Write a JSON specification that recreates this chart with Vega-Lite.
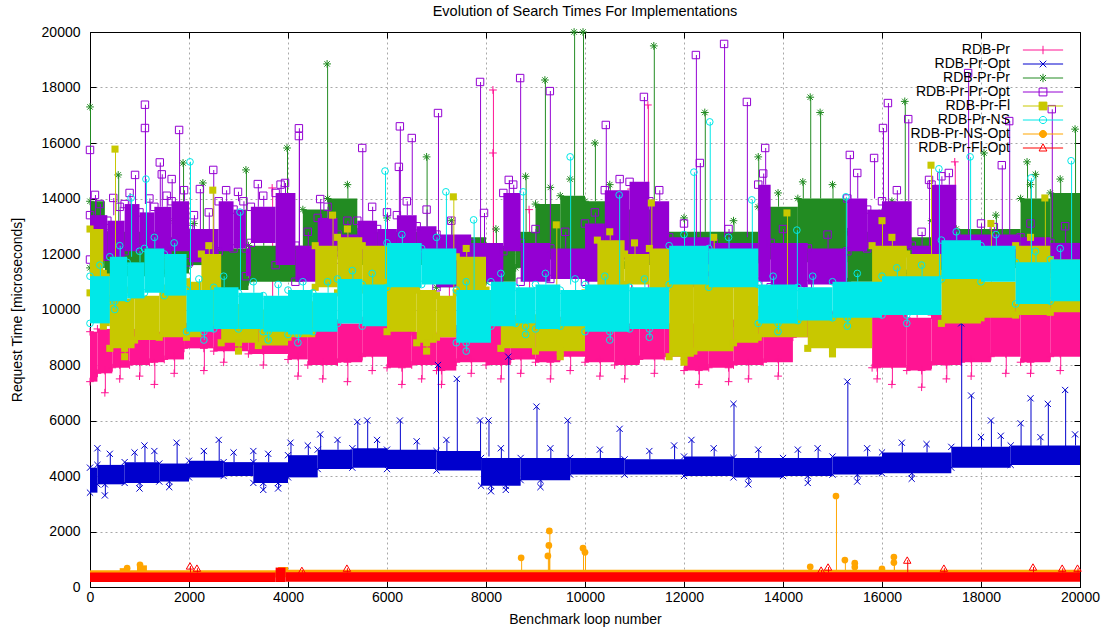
{
"$schema": "https://vega.github.io/schema/vega-lite/v6.json",
"width": 990, "height": 555,
"autosize": {"type": "none"},
"padding": {"left": 90, "top": 32, "right": 28, "bottom": 43},
"background": "white",
"title": {"text": "Evolution of Search Times For Implementations", "fontSize": 14.5, "fontWeight": "normal", "font": "Liberation Sans", "color": "black", "offset": 6, "anchor": "middle"},
"config": {
  "font": "Liberation Sans",
  "view": {"stroke": "black", "strokeWidth": 1},
  "axis": {"labelFont": "Liberation Sans", "labelFontSize": 14, "labelColor": "black", "titleFont": "Liberation Sans", "titleFontSize": 14, "titleFontWeight": "normal", "titleColor": "black", "domainColor": "black", "tickColor": "black", "gridColor": "#a8a8a8", "gridDash": [2, 3], "gridWidth": 1, "gridOpacity": 1}
},
"datasets": {"d": [
{"s":"RDB-Pr","k":"b","x":0,"x2":150,"l":7400,"h":9200},
{"s":"RDB-Pr","k":"b","x":150,"x2":450,"l":7700,"h":9300},
{"s":"RDB-Pr","k":"b","x":450,"x2":800,"l":7900,"h":9100},
{"s":"RDB-Pr","k":"b","x":800,"x2":1200,"l":8000,"h":9300},
{"s":"RDB-Pr","k":"b","x":1200,"x2":1500,"l":8100,"h":9200},
{"s":"RDB-Pr","k":"b","x":1500,"x2":1900,"l":8200,"h":9400},
{"s":"RDB-Pr","k":"b","x":1900,"x2":2500,"l":8600,"h":9500},
{"s":"RDB-Pr","k":"b","x":2500,"x2":3200,"l":8500,"h":9400},
{"s":"RDB-Pr","k":"b","x":3200,"x2":4000,"l":8400,"h":9500},
{"s":"RDB-Pr","k":"b","x":4000,"x2":4400,"l":8200,"h":9700},
{"s":"RDB-Pr","k":"b","x":4400,"x2":5000,"l":8000,"h":9400},
{"s":"RDB-Pr","k":"b","x":5000,"x2":5500,"l":8100,"h":9500},
{"s":"RDB-Pr","k":"b","x":5500,"x2":6000,"l":8300,"h":9600},
{"s":"RDB-Pr","k":"b","x":6000,"x2":6500,"l":7900,"h":9300},
{"s":"RDB-Pr","k":"b","x":6500,"x2":7000,"l":8000,"h":9200},
{"s":"RDB-Pr","k":"b","x":7000,"x2":7400,"l":7800,"h":9000},
{"s":"RDB-Pr","k":"b","x":7400,"x2":8000,"l":8100,"h":9300},
{"s":"RDB-Pr","k":"b","x":8000,"x2":8500,"l":8000,"h":9500},
{"s":"RDB-Pr","k":"b","x":8500,"x2":9000,"l":8200,"h":9600},
{"s":"RDB-Pr","k":"b","x":9000,"x2":9500,"l":8100,"h":9400},
{"s":"RDB-Pr","k":"b","x":9500,"x2":10000,"l":8300,"h":9600},
{"s":"RDB-Pr","k":"b","x":10000,"x2":10600,"l":8100,"h":9700},
{"s":"RDB-Pr","k":"b","x":10600,"x2":11100,"l":8000,"h":9500},
{"s":"RDB-Pr","k":"b","x":11100,"x2":11600,"l":8200,"h":9600},
{"s":"RDB-Pr","k":"b","x":11600,"x2":12000,"l":8300,"h":9500},
{"s":"RDB-Pr","k":"b","x":12000,"x2":12500,"l":7800,"h":9500},
{"s":"RDB-Pr","k":"b","x":12500,"x2":13000,"l":7900,"h":9600},
{"s":"RDB-Pr","k":"b","x":13000,"x2":13600,"l":8000,"h":9500},
{"s":"RDB-Pr","k":"b","x":13600,"x2":14200,"l":8100,"h":9400},
{"s":"RDB-Pr","k":"b","x":14200,"x2":15000,"l":9000,"h":9900},
{"s":"RDB-Pr","k":"b","x":15000,"x2":15800,"l":9100,"h":9800},
{"s":"RDB-Pr","k":"b","x":15800,"x2":16500,"l":7900,"h":9900},
{"s":"RDB-Pr","k":"b","x":16500,"x2":17000,"l":7800,"h":9700},
{"s":"RDB-Pr","k":"b","x":17000,"x2":17600,"l":8000,"h":9800},
{"s":"RDB-Pr","k":"b","x":17600,"x2":18200,"l":8100,"h":10300},
{"s":"RDB-Pr","k":"b","x":18200,"x2":18800,"l":8300,"h":10200},
{"s":"RDB-Pr","k":"b","x":18800,"x2":19400,"l":8100,"h":10000},
{"s":"RDB-Pr","k":"b","x":19400,"x2":20000,"l":8300,"h":10200},
{"s":"RDB-Pr","k":"p","x":3680,"x2":3700,"l":9400,"h":14380},
{"s":"RDB-Pr","k":"p","x":7250,"x2":7270,"l":9200,"h":12100},
{"s":"RDB-Pr","k":"p","x":8140,"x2":8160,"l":9500,"h":15640},
{"s":"RDB-Pr","k":"p","x":8140,"x2":8160,"l":9500,"h":17910},
{"s":"RDB-Pr","k":"p","x":8870,"x2":8890,"l":9600,"h":13600},
{"s":"RDB-Pr","k":"p","x":10930,"x2":10950,"l":9700,"h":14340},
{"s":"RDB-Pr","k":"p","x":11270,"x2":11290,"l":9600,"h":17370},
{"s":"RDB-Pr","k":"p","x":16700,"x2":16720,"l":9700,"h":11500},
{"s":"RDB-Pr","k":"p","x":17470,"x2":17490,"l":9800,"h":15320},
{"s":"RDB-Pr","k":"p","x":19800,"x2":19820,"l":10200,"h":12500},
{"s":"RDB-Pr","k":"q","x":300,"x2":320,"l":7000,"h":7800},
{"s":"RDB-Pr","k":"q","x":600,"x2":620,"l":7500,"h":8000},
{"s":"RDB-Pr","k":"q","x":1000,"x2":1020,"l":7600,"h":8100},
{"s":"RDB-Pr","k":"q","x":1300,"x2":1320,"l":7300,"h":8100},
{"s":"RDB-Pr","k":"q","x":1700,"x2":1720,"l":7700,"h":8300},
{"s":"RDB-Pr","k":"q","x":2300,"x2":2320,"l":7800,"h":8600},
{"s":"RDB-Pr","k":"q","x":2700,"x2":2720,"l":8100,"h":8600},
{"s":"RDB-Pr","k":"q","x":3500,"x2":3520,"l":8000,"h":8500},
{"s":"RDB-Pr","k":"q","x":4200,"x2":4220,"l":7600,"h":8300},
{"s":"RDB-Pr","k":"q","x":4700,"x2":4720,"l":7500,"h":8100},
{"s":"RDB-Pr","k":"q","x":5200,"x2":5220,"l":7400,"h":8100},
{"s":"RDB-Pr","k":"q","x":5700,"x2":5720,"l":7800,"h":8400},
{"s":"RDB-Pr","k":"q","x":6300,"x2":6320,"l":7300,"h":7900},
{"s":"RDB-Pr","k":"q","x":6700,"x2":6720,"l":7500,"h":8100},
{"s":"RDB-Pr","k":"q","x":7100,"x2":7120,"l":7300,"h":7800},
{"s":"RDB-Pr","k":"q","x":7700,"x2":7720,"l":7700,"h":8200},
{"s":"RDB-Pr","k":"q","x":8300,"x2":8320,"l":7500,"h":8100},
{"s":"RDB-Pr","k":"q","x":8700,"x2":8720,"l":7700,"h":8300},
{"s":"RDB-Pr","k":"q","x":9300,"x2":9320,"l":7500,"h":8100},
{"s":"RDB-Pr","k":"q","x":9700,"x2":9720,"l":7800,"h":8400},
{"s":"RDB-Pr","k":"q","x":10300,"x2":10320,"l":7600,"h":8200},
{"s":"RDB-Pr","k":"q","x":10800,"x2":10820,"l":7500,"h":8100},
{"s":"RDB-Pr","k":"q","x":11400,"x2":11420,"l":7700,"h":8300},
{"s":"RDB-Pr","k":"q","x":12300,"x2":12320,"l":7300,"h":7800},
{"s":"RDB-Pr","k":"q","x":12900,"x2":12920,"l":7400,"h":7900},
{"s":"RDB-Pr","k":"q","x":13300,"x2":13320,"l":7500,"h":8100},
{"s":"RDB-Pr","k":"q","x":13900,"x2":13920,"l":7600,"h":8200},
{"s":"RDB-Pr","k":"q","x":15900,"x2":15920,"l":7500,"h":7900},
{"s":"RDB-Pr","k":"q","x":16200,"x2":16220,"l":7300,"h":8000},
{"s":"RDB-Pr","k":"q","x":16800,"x2":16820,"l":7200,"h":7800},
{"s":"RDB-Pr","k":"q","x":17300,"x2":17320,"l":7500,"h":8000},
{"s":"RDB-Pr","k":"q","x":17800,"x2":17820,"l":7600,"h":8200},
{"s":"RDB-Pr","k":"q","x":18500,"x2":18520,"l":7700,"h":8400},
{"s":"RDB-Pr","k":"q","x":19000,"x2":19020,"l":7700,"h":8100},
{"s":"RDB-Pr","k":"q","x":19600,"x2":19620,"l":7800,"h":8400},
{"s":"RDB-Pr-Opt","k":"b","x":0,"x2":150,"l":3400,"h":4300},
{"s":"RDB-Pr-Opt","k":"b","x":150,"x2":700,"l":3700,"h":4400},
{"s":"RDB-Pr-Opt","k":"b","x":700,"x2":1400,"l":3750,"h":4500},
{"s":"RDB-Pr-Opt","k":"b","x":1400,"x2":2000,"l":3800,"h":4450},
{"s":"RDB-Pr-Opt","k":"b","x":2000,"x2":2700,"l":3950,"h":4550},
{"s":"RDB-Pr-Opt","k":"b","x":2700,"x2":3300,"l":4000,"h":4500},
{"s":"RDB-Pr-Opt","k":"b","x":3300,"x2":4000,"l":3750,"h":4500},
{"s":"RDB-Pr-Opt","k":"b","x":4000,"x2":4600,"l":3950,"h":4750},
{"s":"RDB-Pr-Opt","k":"b","x":4600,"x2":5300,"l":4250,"h":4950},
{"s":"RDB-Pr-Opt","k":"b","x":5300,"x2":6000,"l":4300,"h":5000},
{"s":"RDB-Pr-Opt","k":"b","x":6000,"x2":7000,"l":4250,"h":4950},
{"s":"RDB-Pr-Opt","k":"b","x":7000,"x2":7900,"l":4200,"h":4900},
{"s":"RDB-Pr-Opt","k":"b","x":7900,"x2":8700,"l":3650,"h":4650},
{"s":"RDB-Pr-Opt","k":"b","x":8700,"x2":9700,"l":3850,"h":4650},
{"s":"RDB-Pr-Opt","k":"b","x":9700,"x2":10800,"l":4050,"h":4650},
{"s":"RDB-Pr-Opt","k":"b","x":10800,"x2":12000,"l":4050,"h":4600},
{"s":"RDB-Pr-Opt","k":"b","x":12000,"x2":13000,"l":4000,"h":4700},
{"s":"RDB-Pr-Opt","k":"b","x":13000,"x2":14000,"l":3950,"h":4650},
{"s":"RDB-Pr-Opt","k":"b","x":14000,"x2":15000,"l":4000,"h":4650},
{"s":"RDB-Pr-Opt","k":"b","x":15000,"x2":16000,"l":4050,"h":4700},
{"s":"RDB-Pr-Opt","k":"b","x":16000,"x2":17400,"l":4100,"h":4850},
{"s":"RDB-Pr-Opt","k":"b","x":17400,"x2":18600,"l":4300,"h":5050},
{"s":"RDB-Pr-Opt","k":"b","x":18600,"x2":20000,"l":4400,"h":5100},
{"s":"RDB-Pr-Opt","k":"p","x":150,"x2":170,"l":4300,"h":5000},
{"s":"RDB-Pr-Opt","k":"p","x":400,"x2":420,"l":4400,"h":4800},
{"s":"RDB-Pr-Opt","k":"p","x":900,"x2":920,"l":4500,"h":4850},
{"s":"RDB-Pr-Opt","k":"p","x":1100,"x2":1120,"l":4400,"h":5100},
{"s":"RDB-Pr-Opt","k":"p","x":1300,"x2":1320,"l":4500,"h":4900},
{"s":"RDB-Pr-Opt","k":"p","x":1750,"x2":1770,"l":4400,"h":5200},
{"s":"RDB-Pr-Opt","k":"p","x":2300,"x2":2320,"l":4550,"h":4900},
{"s":"RDB-Pr-Opt","k":"p","x":2600,"x2":2620,"l":4500,"h":5300},
{"s":"RDB-Pr-Opt","k":"p","x":2900,"x2":2920,"l":4500,"h":4850},
{"s":"RDB-Pr-Opt","k":"p","x":3300,"x2":3320,"l":4400,"h":4900},
{"s":"RDB-Pr-Opt","k":"p","x":3600,"x2":3620,"l":4500,"h":4800},
{"s":"RDB-Pr-Opt","k":"p","x":4050,"x2":4070,"l":4700,"h":5200},
{"s":"RDB-Pr-Opt","k":"p","x":4400,"x2":4420,"l":4750,"h":5100},
{"s":"RDB-Pr-Opt","k":"p","x":4650,"x2":4670,"l":4900,"h":5500},
{"s":"RDB-Pr-Opt","k":"p","x":5000,"x2":5020,"l":4950,"h":5300},
{"s":"RDB-Pr-Opt","k":"p","x":5400,"x2":5420,"l":4900,"h":5950},
{"s":"RDB-Pr-Opt","k":"p","x":5600,"x2":5620,"l":4900,"h":6000},
{"s":"RDB-Pr-Opt","k":"p","x":5800,"x2":5820,"l":5000,"h":5300},
{"s":"RDB-Pr-Opt","k":"p","x":6260,"x2":6280,"l":4900,"h":6000},
{"s":"RDB-Pr-Opt","k":"p","x":6600,"x2":6620,"l":4950,"h":5250},
{"s":"RDB-Pr-Opt","k":"p","x":7030,"x2":7050,"l":4900,"h":8000},
{"s":"RDB-Pr-Opt","k":"p","x":7200,"x2":7220,"l":4900,"h":5300},
{"s":"RDB-Pr-Opt","k":"p","x":7410,"x2":7430,"l":4900,"h":7500},
{"s":"RDB-Pr-Opt","k":"p","x":7880,"x2":7900,"l":4800,"h":6000},
{"s":"RDB-Pr-Opt","k":"p","x":8050,"x2":8070,"l":4700,"h":6000},
{"s":"RDB-Pr-Opt","k":"p","x":8300,"x2":8320,"l":4650,"h":5000},
{"s":"RDB-Pr-Opt","k":"p","x":8450,"x2":8470,"l":4600,"h":8300},
{"s":"RDB-Pr-Opt","k":"p","x":9020,"x2":9040,"l":4600,"h":6500},
{"s":"RDB-Pr-Opt","k":"p","x":9300,"x2":9320,"l":4650,"h":5000},
{"s":"RDB-Pr-Opt","k":"p","x":9650,"x2":9670,"l":4600,"h":6000},
{"s":"RDB-Pr-Opt","k":"p","x":10300,"x2":10320,"l":4650,"h":4950},
{"s":"RDB-Pr-Opt","k":"p","x":10700,"x2":10720,"l":4600,"h":5700},
{"s":"RDB-Pr-Opt","k":"p","x":11300,"x2":11320,"l":4600,"h":4900},
{"s":"RDB-Pr-Opt","k":"p","x":11800,"x2":11820,"l":4600,"h":5100},
{"s":"RDB-Pr-Opt","k":"p","x":12150,"x2":12170,"l":4600,"h":5300},
{"s":"RDB-Pr-Opt","k":"p","x":12600,"x2":12620,"l":4700,"h":5000},
{"s":"RDB-Pr-Opt","k":"p","x":13000,"x2":13020,"l":4650,"h":6600},
{"s":"RDB-Pr-Opt","k":"p","x":13500,"x2":13520,"l":4650,"h":4950},
{"s":"RDB-Pr-Opt","k":"p","x":14300,"x2":14320,"l":4650,"h":4950},
{"s":"RDB-Pr-Opt","k":"p","x":14700,"x2":14720,"l":4650,"h":5000},
{"s":"RDB-Pr-Opt","k":"p","x":15300,"x2":15320,"l":4700,"h":7400},
{"s":"RDB-Pr-Opt","k":"p","x":15700,"x2":15720,"l":4700,"h":5000},
{"s":"RDB-Pr-Opt","k":"p","x":16400,"x2":16420,"l":4850,"h":5200},
{"s":"RDB-Pr-Opt","k":"p","x":16900,"x2":16920,"l":4850,"h":5150},
{"s":"RDB-Pr-Opt","k":"p","x":17600,"x2":17620,"l":4800,"h":9500},
{"s":"RDB-Pr-Opt","k":"p","x":17800,"x2":17820,"l":4900,"h":6900},
{"s":"RDB-Pr-Opt","k":"p","x":18000,"x2":18020,"l":5050,"h":5400},
{"s":"RDB-Pr-Opt","k":"p","x":18200,"x2":18220,"l":5000,"h":6000},
{"s":"RDB-Pr-Opt","k":"p","x":18400,"x2":18420,"l":5050,"h":5450},
{"s":"RDB-Pr-Opt","k":"p","x":18800,"x2":18820,"l":5000,"h":5900},
{"s":"RDB-Pr-Opt","k":"p","x":19000,"x2":19020,"l":5000,"h":6800},
{"s":"RDB-Pr-Opt","k":"p","x":19200,"x2":19220,"l":5100,"h":5400},
{"s":"RDB-Pr-Opt","k":"p","x":19350,"x2":19370,"l":5000,"h":6600},
{"s":"RDB-Pr-Opt","k":"p","x":19700,"x2":19720,"l":5000,"h":7100},
{"s":"RDB-Pr-Opt","k":"p","x":19900,"x2":19920,"l":5100,"h":5500},
{"s":"RDB-Pr-Opt","k":"q","x":300,"x2":320,"l":3300,"h":3700},
{"s":"RDB-Pr-Opt","k":"q","x":1000,"x2":1020,"l":3550,"h":3750},
{"s":"RDB-Pr-Opt","k":"q","x":1600,"x2":1620,"l":3600,"h":3800},
{"s":"RDB-Pr-Opt","k":"q","x":3500,"x2":3520,"l":3500,"h":3750},
{"s":"RDB-Pr-Opt","k":"q","x":3800,"x2":3820,"l":3550,"h":3750},
{"s":"RDB-Pr-Opt","k":"q","x":8100,"x2":8120,"l":3450,"h":3650},
{"s":"RDB-Pr-Opt","k":"q","x":8400,"x2":8420,"l":3500,"h":3650},
{"s":"RDB-Pr-Opt","k":"q","x":9100,"x2":9120,"l":3600,"h":3850},
{"s":"RDB-Pr-Opt","k":"q","x":13300,"x2":13320,"l":3700,"h":3950},
{"s":"RDB-Pr-Opt","k":"q","x":14500,"x2":14520,"l":3750,"h":4000},
{"s":"RDB-Pr-Opt","k":"q","x":15500,"x2":15520,"l":3800,"h":4050},
{"s":"RDB-Pr-Opt","k":"q","x":16600,"x2":16620,"l":3900,"h":4100},
{"s":"RDB-Pr-Pr","k":"b","x":0,"x2":300,"l":11500,"h":13900},
{"s":"RDB-Pr-Pr","k":"b","x":300,"x2":1500,"l":11200,"h":12800},
{"s":"RDB-Pr-Pr","k":"b","x":1500,"x2":2000,"l":11300,"h":12600},
{"s":"RDB-Pr-Pr","k":"b","x":2000,"x2":2500,"l":11600,"h":12600},
{"s":"RDB-Pr-Pr","k":"b","x":2500,"x2":3200,"l":10700,"h":12200},
{"s":"RDB-Pr-Pr","k":"b","x":3200,"x2":4300,"l":11000,"h":12300},
{"s":"RDB-Pr-Pr","k":"b","x":4300,"x2":4800,"l":12000,"h":13600},
{"s":"RDB-Pr-Pr","k":"b","x":4800,"x2":5400,"l":12100,"h":14000},
{"s":"RDB-Pr-Pr","k":"b","x":5400,"x2":7000,"l":11600,"h":12800},
{"s":"RDB-Pr-Pr","k":"b","x":7000,"x2":8000,"l":10800,"h":12600},
{"s":"RDB-Pr-Pr","k":"b","x":8000,"x2":8600,"l":11000,"h":12300},
{"s":"RDB-Pr-Pr","k":"b","x":8600,"x2":9000,"l":11500,"h":12800},
{"s":"RDB-Pr-Pr","k":"b","x":9000,"x2":9500,"l":11800,"h":13800},
{"s":"RDB-Pr-Pr","k":"b","x":9500,"x2":10000,"l":11900,"h":14100},
{"s":"RDB-Pr-Pr","k":"b","x":10000,"x2":10800,"l":11900,"h":13900},
{"s":"RDB-Pr-Pr","k":"b","x":10800,"x2":11600,"l":11600,"h":13600},
{"s":"RDB-Pr-Pr","k":"b","x":11600,"x2":13500,"l":11200,"h":12800},
{"s":"RDB-Pr-Pr","k":"b","x":13500,"x2":14300,"l":11800,"h":13700},
{"s":"RDB-Pr-Pr","k":"b","x":14300,"x2":15300,"l":11700,"h":14000},
{"s":"RDB-Pr-Pr","k":"b","x":15300,"x2":16000,"l":11000,"h":12800},
{"s":"RDB-Pr-Pr","k":"b","x":16000,"x2":16500,"l":12000,"h":13500},
{"s":"RDB-Pr-Pr","k":"b","x":16500,"x2":17500,"l":11300,"h":12600},
{"s":"RDB-Pr-Pr","k":"b","x":17500,"x2":18800,"l":11500,"h":12900},
{"s":"RDB-Pr-Pr","k":"b","x":18800,"x2":19400,"l":12100,"h":14000},
{"s":"RDB-Pr-Pr","k":"b","x":19400,"x2":20000,"l":12000,"h":14200},
{"s":"RDB-Pr-Pr","k":"p","x":0,"x2":20,"l":13900,"h":17300},
{"s":"RDB-Pr-Pr","k":"p","x":570,"x2":590,"l":12800,"h":14850},
{"s":"RDB-Pr-Pr","k":"p","x":800,"x2":820,"l":12800,"h":13400},
{"s":"RDB-Pr-Pr","k":"p","x":1200,"x2":1220,"l":12800,"h":13300},
{"s":"RDB-Pr-Pr","k":"p","x":1700,"x2":1720,"l":12600,"h":13200},
{"s":"RDB-Pr-Pr","k":"p","x":1880,"x2":1900,"l":12600,"h":15280},
{"s":"RDB-Pr-Pr","k":"p","x":2100,"x2":2120,"l":12600,"h":13100},
{"s":"RDB-Pr-Pr","k":"p","x":2280,"x2":2300,"l":12600,"h":14560},
{"s":"RDB-Pr-Pr","k":"p","x":2700,"x2":2720,"l":12200,"h":12800},
{"s":"RDB-Pr-Pr","k":"p","x":3150,"x2":3170,"l":12200,"h":15030},
{"s":"RDB-Pr-Pr","k":"p","x":3500,"x2":3520,"l":12300,"h":12900},
{"s":"RDB-Pr-Pr","k":"p","x":3980,"x2":4000,"l":12300,"h":15820},
{"s":"RDB-Pr-Pr","k":"p","x":4790,"x2":4810,"l":14000,"h":18850},
{"s":"RDB-Pr-Pr","k":"p","x":5200,"x2":5220,"l":14000,"h":14500},
{"s":"RDB-Pr-Pr","k":"p","x":6000,"x2":6020,"l":12800,"h":13300},
{"s":"RDB-Pr-Pr","k":"p","x":6800,"x2":6820,"l":12800,"h":15500},
{"s":"RDB-Pr-Pr","k":"p","x":7300,"x2":7320,"l":12600,"h":13200},
{"s":"RDB-Pr-Pr","k":"p","x":8200,"x2":8220,"l":12300,"h":12900},
{"s":"RDB-Pr-Pr","k":"p","x":8800,"x2":8820,"l":12800,"h":14800},
{"s":"RDB-Pr-Pr","k":"p","x":9190,"x2":9210,"l":13800,"h":18270},
{"s":"RDB-Pr-Pr","k":"p","x":9300,"x2":9320,"l":13800,"h":14400},
{"s":"RDB-Pr-Pr","k":"p","x":9700,"x2":9720,"l":14100,"h":14700},
{"s":"RDB-Pr-Pr","k":"p","x":9780,"x2":9800,"l":14100,"h":20000},
{"s":"RDB-Pr-Pr","k":"p","x":9960,"x2":9980,"l":14100,"h":20000},
{"s":"RDB-Pr-Pr","k":"p","x":10200,"x2":10220,"l":13900,"h":16000},
{"s":"RDB-Pr-Pr","k":"p","x":10500,"x2":10520,"l":13900,"h":14500},
{"s":"RDB-Pr-Pr","k":"p","x":11100,"x2":11120,"l":13600,"h":14100},
{"s":"RDB-Pr-Pr","k":"p","x":11390,"x2":11410,"l":13600,"h":19500},
{"s":"RDB-Pr-Pr","k":"p","x":12000,"x2":12020,"l":12800,"h":13300},
{"s":"RDB-Pr-Pr","k":"p","x":12420,"x2":12440,"l":12800,"h":17100},
{"s":"RDB-Pr-Pr","k":"p","x":13000,"x2":13020,"l":12800,"h":13200},
{"s":"RDB-Pr-Pr","k":"p","x":13500,"x2":13520,"l":13700,"h":15500},
{"s":"RDB-Pr-Pr","k":"p","x":13900,"x2":13920,"l":13700,"h":14200},
{"s":"RDB-Pr-Pr","k":"p","x":14400,"x2":14420,"l":14000,"h":14600},
{"s":"RDB-Pr-Pr","k":"p","x":14550,"x2":14570,"l":14000,"h":17650},
{"s":"RDB-Pr-Pr","k":"p","x":14750,"x2":14770,"l":14000,"h":17100},
{"s":"RDB-Pr-Pr","k":"p","x":15000,"x2":15020,"l":14000,"h":14500},
{"s":"RDB-Pr-Pr","k":"p","x":15600,"x2":15620,"l":12800,"h":13400},
{"s":"RDB-Pr-Pr","k":"p","x":16200,"x2":16220,"l":13500,"h":13900},
{"s":"RDB-Pr-Pr","k":"p","x":16460,"x2":16480,"l":13500,"h":17500},
{"s":"RDB-Pr-Pr","k":"p","x":17000,"x2":17020,"l":12600,"h":13200},
{"s":"RDB-Pr-Pr","k":"p","x":18060,"x2":18080,"l":12900,"h":15640},
{"s":"RDB-Pr-Pr","k":"p","x":18300,"x2":18320,"l":12900,"h":13400},
{"s":"RDB-Pr-Pr","k":"p","x":18930,"x2":18950,"l":14000,"h":15320},
{"s":"RDB-Pr-Pr","k":"p","x":19000,"x2":19020,"l":14000,"h":14500},
{"s":"RDB-Pr-Pr","k":"p","x":19100,"x2":19120,"l":14000,"h":14870},
{"s":"RDB-Pr-Pr","k":"p","x":19600,"x2":19620,"l":14200,"h":14700},
{"s":"RDB-Pr-Pr","k":"p","x":19900,"x2":19920,"l":14200,"h":16500},
{"s":"RDB-Pr-Pr-Opt","k":"b","x":0,"x2":350,"l":11800,"h":13400},
{"s":"RDB-Pr-Pr-Opt","k":"b","x":350,"x2":700,"l":11900,"h":13200},
{"s":"RDB-Pr-Pr-Opt","k":"b","x":700,"x2":1000,"l":12100,"h":13800},
{"s":"RDB-Pr-Pr-Opt","k":"b","x":1000,"x2":1300,"l":12200,"h":13500},
{"s":"RDB-Pr-Pr-Opt","k":"b","x":1300,"x2":1650,"l":12000,"h":13700},
{"s":"RDB-Pr-Pr-Opt","k":"b","x":1650,"x2":2000,"l":12100,"h":13900},
{"s":"RDB-Pr-Pr-Opt","k":"b","x":2000,"x2":2600,"l":11700,"h":12900},
{"s":"RDB-Pr-Pr-Opt","k":"b","x":2600,"x2":2900,"l":12100,"h":13900},
{"s":"RDB-Pr-Pr-Opt","k":"b","x":2900,"x2":3150,"l":12200,"h":13600},
{"s":"RDB-Pr-Pr-Opt","k":"b","x":3150,"x2":3250,"l":11200,"h":12200},
{"s":"RDB-Pr-Pr-Opt","k":"b","x":3250,"x2":3750,"l":12400,"h":13700},
{"s":"RDB-Pr-Pr-Opt","k":"b","x":3750,"x2":4150,"l":11600,"h":14200},
{"s":"RDB-Pr-Pr-Opt","k":"b","x":4150,"x2":4600,"l":11000,"h":12300},
{"s":"RDB-Pr-Pr-Opt","k":"b","x":4600,"x2":5000,"l":11900,"h":13300},
{"s":"RDB-Pr-Pr-Opt","k":"b","x":5000,"x2":5400,"l":11800,"h":12700},
{"s":"RDB-Pr-Pr-Opt","k":"b","x":5400,"x2":5800,"l":11800,"h":13200},
{"s":"RDB-Pr-Pr-Opt","k":"b","x":5800,"x2":6200,"l":11900,"h":12900},
{"s":"RDB-Pr-Pr-Opt","k":"b","x":6200,"x2":6600,"l":11700,"h":13400},
{"s":"RDB-Pr-Pr-Opt","k":"b","x":6600,"x2":7000,"l":11800,"h":13000},
{"s":"RDB-Pr-Pr-Opt","k":"b","x":7000,"x2":7700,"l":10800,"h":12700},
{"s":"RDB-Pr-Pr-Opt","k":"b","x":7700,"x2":8350,"l":11000,"h":12400},
{"s":"RDB-Pr-Pr-Opt","k":"b","x":8350,"x2":8700,"l":12100,"h":14200},
{"s":"RDB-Pr-Pr-Opt","k":"b","x":8700,"x2":9300,"l":11000,"h":12400},
{"s":"RDB-Pr-Pr-Opt","k":"b","x":9300,"x2":10000,"l":11100,"h":12200},
{"s":"RDB-Pr-Pr-Opt","k":"b","x":10000,"x2":10400,"l":11000,"h":13100},
{"s":"RDB-Pr-Pr-Opt","k":"b","x":10400,"x2":10900,"l":11800,"h":14300},
{"s":"RDB-Pr-Pr-Opt","k":"b","x":10900,"x2":11300,"l":12000,"h":14600},
{"s":"RDB-Pr-Pr-Opt","k":"b","x":11300,"x2":11700,"l":11800,"h":13900},
{"s":"RDB-Pr-Pr-Opt","k":"b","x":11700,"x2":12600,"l":10800,"h":12600},
{"s":"RDB-Pr-Pr-Opt","k":"b","x":12600,"x2":13500,"l":10900,"h":12400},
{"s":"RDB-Pr-Pr-Opt","k":"b","x":13500,"x2":13750,"l":11000,"h":14500},
{"s":"RDB-Pr-Pr-Opt","k":"b","x":13750,"x2":14500,"l":10800,"h":12400},
{"s":"RDB-Pr-Pr-Opt","k":"b","x":14500,"x2":15300,"l":10900,"h":12200},
{"s":"RDB-Pr-Pr-Opt","k":"b","x":15300,"x2":15700,"l":12100,"h":14000},
{"s":"RDB-Pr-Pr-Opt","k":"b","x":15700,"x2":16000,"l":12200,"h":13600},
{"s":"RDB-Pr-Pr-Opt","k":"b","x":16000,"x2":16600,"l":12200,"h":13900},
{"s":"RDB-Pr-Pr-Opt","k":"b","x":16600,"x2":17000,"l":11400,"h":12300},
{"s":"RDB-Pr-Pr-Opt","k":"b","x":17000,"x2":17500,"l":11700,"h":14500},
{"s":"RDB-Pr-Pr-Opt","k":"b","x":17500,"x2":18800,"l":11800,"h":12700},
{"s":"RDB-Pr-Pr-Opt","k":"b","x":18800,"x2":19400,"l":11200,"h":12600},
{"s":"RDB-Pr-Pr-Opt","k":"b","x":19400,"x2":20000,"l":11300,"h":12400},
{"s":"RDB-Pr-Pr-Opt","k":"p","x":0,"x2":20,"l":13400,"h":15750},
{"s":"RDB-Pr-Pr-Opt","k":"p","x":100,"x2":120,"l":13400,"h":14130},
{"s":"RDB-Pr-Pr-Opt","k":"p","x":200,"x2":220,"l":13400,"h":13800},
{"s":"RDB-Pr-Pr-Opt","k":"p","x":470,"x2":490,"l":13400,"h":14020},
{"s":"RDB-Pr-Pr-Opt","k":"p","x":600,"x2":620,"l":13200,"h":13700},
{"s":"RDB-Pr-Pr-Opt","k":"p","x":800,"x2":820,"l":13800,"h":14200},
{"s":"RDB-Pr-Pr-Opt","k":"p","x":910,"x2":930,"l":13800,"h":14850},
{"s":"RDB-Pr-Pr-Opt","k":"p","x":1110,"x2":1130,"l":13800,"h":16540},
{"s":"RDB-Pr-Pr-Opt","k":"p","x":1110,"x2":1130,"l":13800,"h":17380},
{"s":"RDB-Pr-Pr-Opt","k":"p","x":1200,"x2":1220,"l":13500,"h":14000},
{"s":"RDB-Pr-Pr-Opt","k":"p","x":1410,"x2":1430,"l":13700,"h":15300},
{"s":"RDB-Pr-Pr-Opt","k":"p","x":1450,"x2":1470,"l":13700,"h":14870},
{"s":"RDB-Pr-Pr-Opt","k":"p","x":1550,"x2":1570,"l":13700,"h":14100},
{"s":"RDB-Pr-Pr-Opt","k":"p","x":1650,"x2":1670,"l":13700,"h":14700},
{"s":"RDB-Pr-Pr-Opt","k":"p","x":1800,"x2":1820,"l":13700,"h":16470},
{"s":"RDB-Pr-Pr-Opt","k":"p","x":1900,"x2":1920,"l":13900,"h":14300},
{"s":"RDB-Pr-Pr-Opt","k":"p","x":2100,"x2":2120,"l":12900,"h":13400},
{"s":"RDB-Pr-Pr-Opt","k":"p","x":2220,"x2":2240,"l":12900,"h":14340},
{"s":"RDB-Pr-Pr-Opt","k":"p","x":2400,"x2":2420,"l":12900,"h":13500},
{"s":"RDB-Pr-Pr-Opt","k":"p","x":2490,"x2":2510,"l":12900,"h":15030},
{"s":"RDB-Pr-Pr-Opt","k":"p","x":2750,"x2":2770,"l":13900,"h":14300},
{"s":"RDB-Pr-Pr-Opt","k":"p","x":2990,"x2":3010,"l":13900,"h":14240},
{"s":"RDB-Pr-Pr-Opt","k":"p","x":3100,"x2":3120,"l":13600,"h":13900},
{"s":"RDB-Pr-Pr-Opt","k":"p","x":3390,"x2":3410,"l":13700,"h":14520},
{"s":"RDB-Pr-Pr-Opt","k":"p","x":3500,"x2":3520,"l":13700,"h":14100},
{"s":"RDB-Pr-Pr-Opt","k":"p","x":3850,"x2":3870,"l":14200,"h":14500},
{"s":"RDB-Pr-Pr-Opt","k":"p","x":3940,"x2":3960,"l":14200,"h":14560},
{"s":"RDB-Pr-Pr-Opt","k":"p","x":4220,"x2":4240,"l":12300,"h":16250},
{"s":"RDB-Pr-Pr-Opt","k":"p","x":4220,"x2":4240,"l":12300,"h":16530},
{"s":"RDB-Pr-Pr-Opt","k":"p","x":4400,"x2":4420,"l":12300,"h":12800},
{"s":"RDB-Pr-Pr-Opt","k":"p","x":4650,"x2":4670,"l":13300,"h":13980},
{"s":"RDB-Pr-Pr-Opt","k":"p","x":4800,"x2":4820,"l":13300,"h":13700},
{"s":"RDB-Pr-Pr-Opt","k":"p","x":5200,"x2":5220,"l":12700,"h":13200},
{"s":"RDB-Pr-Pr-Opt","k":"p","x":5500,"x2":5520,"l":12700,"h":15820},
{"s":"RDB-Pr-Pr-Opt","k":"p","x":5700,"x2":5720,"l":13200,"h":13700},
{"s":"RDB-Pr-Pr-Opt","k":"p","x":6000,"x2":6020,"l":12900,"h":13500},
{"s":"RDB-Pr-Pr-Opt","k":"p","x":6240,"x2":6260,"l":13400,"h":15140},
{"s":"RDB-Pr-Pr-Opt","k":"p","x":6260,"x2":6280,"l":13400,"h":16600},
{"s":"RDB-Pr-Pr-Opt","k":"p","x":6400,"x2":6420,"l":13400,"h":13900},
{"s":"RDB-Pr-Pr-Opt","k":"p","x":6500,"x2":6520,"l":13400,"h":16180},
{"s":"RDB-Pr-Pr-Opt","k":"p","x":6800,"x2":6820,"l":13000,"h":13600},
{"s":"RDB-Pr-Pr-Opt","k":"p","x":7030,"x2":7050,"l":12700,"h":17080},
{"s":"RDB-Pr-Pr-Opt","k":"p","x":7300,"x2":7320,"l":12700,"h":13200},
{"s":"RDB-Pr-Pr-Opt","k":"p","x":7880,"x2":7900,"l":12400,"h":18200},
{"s":"RDB-Pr-Pr-Opt","k":"p","x":7960,"x2":7980,"l":12400,"h":13480},
{"s":"RDB-Pr-Pr-Opt","k":"p","x":8460,"x2":8480,"l":14200,"h":14670},
{"s":"RDB-Pr-Pr-Opt","k":"p","x":8550,"x2":8570,"l":14200,"h":14500},
{"s":"RDB-Pr-Pr-Opt","k":"p","x":8690,"x2":8710,"l":14200,"h":18340},
{"s":"RDB-Pr-Pr-Opt","k":"p","x":9000,"x2":9020,"l":12400,"h":12900},
{"s":"RDB-Pr-Pr-Opt","k":"p","x":9290,"x2":9310,"l":12400,"h":17870},
{"s":"RDB-Pr-Pr-Opt","k":"p","x":9600,"x2":9620,"l":12200,"h":12800},
{"s":"RDB-Pr-Pr-Opt","k":"p","x":10200,"x2":10220,"l":13100,"h":13500},
{"s":"RDB-Pr-Pr-Opt","k":"p","x":10420,"x2":10440,"l":13100,"h":16650},
{"s":"RDB-Pr-Pr-Opt","k":"p","x":10700,"x2":10720,"l":14300,"h":14700},
{"s":"RDB-Pr-Pr-Opt","k":"p","x":11190,"x2":11210,"l":14600,"h":17660},
{"s":"RDB-Pr-Pr-Opt","k":"p","x":11500,"x2":11520,"l":13900,"h":14300},
{"s":"RDB-Pr-Pr-Opt","k":"p","x":12000,"x2":12020,"l":12600,"h":13100},
{"s":"RDB-Pr-Pr-Opt","k":"p","x":12240,"x2":12260,"l":12600,"h":19170},
{"s":"RDB-Pr-Pr-Opt","k":"p","x":12320,"x2":12340,"l":12600,"h":15280},
{"s":"RDB-Pr-Pr-Opt","k":"p","x":12810,"x2":12830,"l":12600,"h":19570},
{"s":"RDB-Pr-Pr-Opt","k":"p","x":12900,"x2":12920,"l":12400,"h":12900},
{"s":"RDB-Pr-Pr-Opt","k":"p","x":13270,"x2":13290,"l":12600,"h":17480},
{"s":"RDB-Pr-Pr-Opt","k":"p","x":13600,"x2":13620,"l":14500,"h":14900},
{"s":"RDB-Pr-Pr-Opt","k":"p","x":13640,"x2":13660,"l":14500,"h":15820},
{"s":"RDB-Pr-Pr-Opt","k":"p","x":14000,"x2":14020,"l":12400,"h":12900},
{"s":"RDB-Pr-Pr-Opt","k":"p","x":14900,"x2":14920,"l":12200,"h":12700},
{"s":"RDB-Pr-Pr-Opt","k":"p","x":15350,"x2":15370,"l":14000,"h":15570},
{"s":"RDB-Pr-Pr-Opt","k":"p","x":15500,"x2":15520,"l":14000,"h":14920},
{"s":"RDB-Pr-Pr-Opt","k":"p","x":15840,"x2":15860,"l":14000,"h":15460},
{"s":"RDB-Pr-Pr-Opt","k":"p","x":16020,"x2":16040,"l":13900,"h":16540},
{"s":"RDB-Pr-Pr-Opt","k":"p","x":16120,"x2":16140,"l":13900,"h":17440},
{"s":"RDB-Pr-Pr-Opt","k":"p","x":16300,"x2":16320,"l":13900,"h":14300},
{"s":"RDB-Pr-Pr-Opt","k":"p","x":16530,"x2":16550,"l":13900,"h":16860},
{"s":"RDB-Pr-Pr-Opt","k":"p","x":16800,"x2":16820,"l":12300,"h":12800},
{"s":"RDB-Pr-Pr-Opt","k":"p","x":16950,"x2":16970,"l":12300,"h":14670},
{"s":"RDB-Pr-Pr-Opt","k":"p","x":17200,"x2":17220,"l":14500,"h":14800},
{"s":"RDB-Pr-Pr-Opt","k":"p","x":17350,"x2":17370,"l":14500,"h":14920},
{"s":"RDB-Pr-Pr-Opt","k":"p","x":17740,"x2":17760,"l":12700,"h":18520},
{"s":"RDB-Pr-Pr-Opt","k":"p","x":18000,"x2":18020,"l":12700,"h":13100},
{"s":"RDB-Pr-Pr-Opt","k":"p","x":18260,"x2":18280,"l":12700,"h":12970},
{"s":"RDB-Pr-Pr-Opt","k":"p","x":18420,"x2":18440,"l":12700,"h":15200},
{"s":"RDB-Pr-Pr-Opt","k":"p","x":18570,"x2":18590,"l":12700,"h":16790},
{"s":"RDB-Pr-Pr-Opt","k":"p","x":19000,"x2":19020,"l":12600,"h":13100},
{"s":"RDB-Pr-Pr-Opt","k":"p","x":19430,"x2":19450,"l":12600,"h":17220},
{"s":"RDB-Pr-Pr-Opt","k":"p","x":19700,"x2":19720,"l":12400,"h":13000},
{"s":"RDB-Pr-Fl","k":"b","x":0,"x2":270,"l":10600,"h":12900},
{"s":"RDB-Pr-Fl","k":"b","x":270,"x2":400,"l":9400,"h":11300},
{"s":"RDB-Pr-Fl","k":"b","x":400,"x2":900,"l":8600,"h":10400},
{"s":"RDB-Pr-Fl","k":"b","x":900,"x2":1400,"l":8900,"h":10500},
{"s":"RDB-Pr-Fl","k":"b","x":1400,"x2":1950,"l":9000,"h":10900},
{"s":"RDB-Pr-Fl","k":"b","x":1950,"x2":2250,"l":9000,"h":11000},
{"s":"RDB-Pr-Fl","k":"b","x":2250,"x2":2650,"l":9400,"h":12000},
{"s":"RDB-Pr-Fl","k":"b","x":2650,"x2":3400,"l":8800,"h":10200},
{"s":"RDB-Pr-Fl","k":"b","x":3400,"x2":4000,"l":8700,"h":10000},
{"s":"RDB-Pr-Fl","k":"b","x":4000,"x2":4550,"l":9000,"h":10300},
{"s":"RDB-Pr-Fl","k":"b","x":4550,"x2":5000,"l":10800,"h":12300},
{"s":"RDB-Pr-Fl","k":"b","x":5000,"x2":5500,"l":10600,"h":12600},
{"s":"RDB-Pr-Fl","k":"b","x":5500,"x2":6000,"l":10700,"h":12300},
{"s":"RDB-Pr-Fl","k":"b","x":6000,"x2":6600,"l":9200,"h":11000},
{"s":"RDB-Pr-Fl","k":"b","x":6600,"x2":7000,"l":8800,"h":10700},
{"s":"RDB-Pr-Fl","k":"b","x":7000,"x2":7400,"l":9000,"h":10500},
{"s":"RDB-Pr-Fl","k":"b","x":7400,"x2":8000,"l":10600,"h":11900},
{"s":"RDB-Pr-Fl","k":"b","x":8000,"x2":8300,"l":9500,"h":10700},
{"s":"RDB-Pr-Fl","k":"b","x":8300,"x2":9000,"l":8600,"h":9800},
{"s":"RDB-Pr-Fl","k":"b","x":9000,"x2":10000,"l":8500,"h":9700},
{"s":"RDB-Pr-Fl","k":"b","x":10000,"x2":10250,"l":9400,"h":10600},
{"s":"RDB-Pr-Fl","k":"b","x":10250,"x2":10800,"l":10700,"h":12500},
{"s":"RDB-Pr-Fl","k":"b","x":10800,"x2":11300,"l":10900,"h":12000},
{"s":"RDB-Pr-Fl","k":"b","x":11300,"x2":11700,"l":10600,"h":12200},
{"s":"RDB-Pr-Fl","k":"b","x":11700,"x2":12200,"l":8300,"h":11000},
{"s":"RDB-Pr-Fl","k":"b","x":12200,"x2":13000,"l":8500,"h":11200},
{"s":"RDB-Pr-Fl","k":"b","x":13000,"x2":13500,"l":8800,"h":10900},
{"s":"RDB-Pr-Fl","k":"b","x":13500,"x2":14500,"l":9000,"h":10000},
{"s":"RDB-Pr-Fl","k":"b","x":14500,"x2":15800,"l":8600,"h":9800},
{"s":"RDB-Pr-Fl","k":"b","x":15800,"x2":16500,"l":10800,"h":12300},
{"s":"RDB-Pr-Fl","k":"b","x":16500,"x2":17200,"l":10900,"h":12000},
{"s":"RDB-Pr-Fl","k":"b","x":17200,"x2":18000,"l":9500,"h":11300},
{"s":"RDB-Pr-Fl","k":"b","x":18000,"x2":18700,"l":9700,"h":11000},
{"s":"RDB-Pr-Fl","k":"b","x":18700,"x2":19400,"l":9800,"h":12300},
{"s":"RDB-Pr-Fl","k":"b","x":19400,"x2":20000,"l":9900,"h":11800},
{"s":"RDB-Pr-Fl","k":"p","x":505,"x2":525,"l":10400,"h":15780},
{"s":"RDB-Pr-Fl","k":"p","x":700,"x2":720,"l":10400,"h":10700},
{"s":"RDB-Pr-Fl","k":"p","x":1600,"x2":1620,"l":10900,"h":11200},
{"s":"RDB-Pr-Fl","k":"p","x":2400,"x2":2420,"l":12000,"h":12300},
{"s":"RDB-Pr-Fl","k":"p","x":2480,"x2":2500,"l":12000,"h":14300},
{"s":"RDB-Pr-Fl","k":"p","x":4900,"x2":4920,"l":12300,"h":13400},
{"s":"RDB-Pr-Fl","k":"p","x":5200,"x2":5220,"l":12600,"h":12900},
{"s":"RDB-Pr-Fl","k":"p","x":6300,"x2":6320,"l":11000,"h":11300},
{"s":"RDB-Pr-Fl","k":"p","x":7340,"x2":7360,"l":10500,"h":14060},
{"s":"RDB-Pr-Fl","k":"p","x":7600,"x2":7620,"l":11900,"h":12200},
{"s":"RDB-Pr-Fl","k":"p","x":9420,"x2":9440,"l":9700,"h":13050},
{"s":"RDB-Pr-Fl","k":"p","x":10500,"x2":10520,"l":12500,"h":12800},
{"s":"RDB-Pr-Fl","k":"p","x":11000,"x2":11020,"l":12000,"h":12400},
{"s":"RDB-Pr-Fl","k":"p","x":11340,"x2":11360,"l":12000,"h":13840},
{"s":"RDB-Pr-Fl","k":"p","x":12500,"x2":12520,"l":11200,"h":11500},
{"s":"RDB-Pr-Fl","k":"p","x":12600,"x2":12620,"l":11200,"h":12600},
{"s":"RDB-Pr-Fl","k":"p","x":14080,"x2":14100,"l":10000,"h":13480},
{"s":"RDB-Pr-Fl","k":"p","x":16000,"x2":16020,"l":12300,"h":13200},
{"s":"RDB-Pr-Fl","k":"p","x":16200,"x2":16220,"l":12300,"h":12600},
{"s":"RDB-Pr-Fl","k":"p","x":16990,"x2":17010,"l":12000,"h":15200},
{"s":"RDB-Pr-Fl","k":"p","x":17500,"x2":17520,"l":11300,"h":11600},
{"s":"RDB-Pr-Fl","k":"p","x":18200,"x2":18220,"l":11000,"h":13100},
{"s":"RDB-Pr-Fl","k":"p","x":19000,"x2":19020,"l":12300,"h":12600},
{"s":"RDB-Pr-Fl","k":"p","x":19290,"x2":19310,"l":12300,"h":14020},
{"s":"RDB-Pr-Fl","k":"q","x":700,"x2":720,"l":8300,"h":8600},
{"s":"RDB-Pr-Fl","k":"q","x":3000,"x2":3020,"l":8500,"h":8800},
{"s":"RDB-Pr-Fl","k":"q","x":6800,"x2":6820,"l":8500,"h":8800},
{"s":"RDB-Pr-Fl","k":"q","x":9500,"x2":9520,"l":8300,"h":8500},
{"s":"RDB-Pr-Fl","k":"q","x":12000,"x2":12020,"l":8100,"h":8300},
{"s":"RDB-Pr-Fl","k":"q","x":15000,"x2":15020,"l":8400,"h":8600},
{"s":"RDB-Pr-NS","k":"b","x":0,"x2":400,"l":9500,"h":11200},
{"s":"RDB-Pr-NS","k":"b","x":400,"x2":750,"l":10300,"h":11900},
{"s":"RDB-Pr-NS","k":"b","x":750,"x2":1100,"l":10400,"h":11700},
{"s":"RDB-Pr-NS","k":"b","x":1100,"x2":1500,"l":10600,"h":12200},
{"s":"RDB-Pr-NS","k":"b","x":1500,"x2":1950,"l":10500,"h":12000},
{"s":"RDB-Pr-NS","k":"b","x":1950,"x2":2500,"l":9200,"h":10700},
{"s":"RDB-Pr-NS","k":"b","x":2500,"x2":3000,"l":9300,"h":10800},
{"s":"RDB-Pr-NS","k":"b","x":3000,"x2":3500,"l":9300,"h":10600},
{"s":"RDB-Pr-NS","k":"b","x":3500,"x2":4000,"l":9200,"h":10500},
{"s":"RDB-Pr-NS","k":"b","x":4000,"x2":4500,"l":9100,"h":10700},
{"s":"RDB-Pr-NS","k":"b","x":4500,"x2":5000,"l":9200,"h":10600},
{"s":"RDB-Pr-NS","k":"b","x":5000,"x2":5500,"l":9500,"h":11100},
{"s":"RDB-Pr-NS","k":"b","x":5500,"x2":6000,"l":9400,"h":10900},
{"s":"RDB-Pr-NS","k":"b","x":6000,"x2":6700,"l":10800,"h":12400},
{"s":"RDB-Pr-NS","k":"b","x":6700,"x2":7400,"l":10900,"h":12200},
{"s":"RDB-Pr-NS","k":"b","x":7400,"x2":8100,"l":8800,"h":10700},
{"s":"RDB-Pr-NS","k":"b","x":8100,"x2":8600,"l":9400,"h":11000},
{"s":"RDB-Pr-NS","k":"b","x":8600,"x2":9000,"l":9500,"h":10800},
{"s":"RDB-Pr-NS","k":"b","x":9000,"x2":9500,"l":9300,"h":10900},
{"s":"RDB-Pr-NS","k":"b","x":9500,"x2":10000,"l":9400,"h":10700},
{"s":"RDB-Pr-NS","k":"b","x":10000,"x2":10900,"l":9200,"h":10900},
{"s":"RDB-Pr-NS","k":"b","x":10900,"x2":11700,"l":9300,"h":10800},
{"s":"RDB-Pr-NS","k":"b","x":11700,"x2":12500,"l":10900,"h":12300},
{"s":"RDB-Pr-NS","k":"b","x":12500,"x2":13500,"l":10800,"h":12200},
{"s":"RDB-Pr-NS","k":"b","x":13500,"x2":14300,"l":9500,"h":10900},
{"s":"RDB-Pr-NS","k":"b","x":14300,"x2":15000,"l":9600,"h":10800},
{"s":"RDB-Pr-NS","k":"b","x":15000,"x2":16000,"l":9700,"h":11000},
{"s":"RDB-Pr-NS","k":"b","x":16000,"x2":17200,"l":9800,"h":11200},
{"s":"RDB-Pr-NS","k":"b","x":17200,"x2":18000,"l":11100,"h":12500},
{"s":"RDB-Pr-NS","k":"b","x":18000,"x2":18700,"l":11000,"h":12300},
{"s":"RDB-Pr-NS","k":"b","x":18700,"x2":19400,"l":10200,"h":11700},
{"s":"RDB-Pr-NS","k":"b","x":19400,"x2":20000,"l":10300,"h":11800},
{"s":"RDB-Pr-NS","k":"p","x":200,"x2":220,"l":11200,"h":11600},
{"s":"RDB-Pr-NS","k":"p","x":600,"x2":620,"l":11900,"h":12300},
{"s":"RDB-Pr-NS","k":"p","x":830,"x2":850,"l":11900,"h":14020},
{"s":"RDB-Pr-NS","k":"p","x":1000,"x2":1020,"l":11700,"h":12100},
{"s":"RDB-Pr-NS","k":"p","x":1130,"x2":1150,"l":12200,"h":14700},
{"s":"RDB-Pr-NS","k":"p","x":1300,"x2":1320,"l":12200,"h":12600},
{"s":"RDB-Pr-NS","k":"p","x":1700,"x2":1720,"l":12000,"h":12400},
{"s":"RDB-Pr-NS","k":"p","x":2020,"x2":2040,"l":10700,"h":15320},
{"s":"RDB-Pr-NS","k":"p","x":2200,"x2":2220,"l":10700,"h":11100},
{"s":"RDB-Pr-NS","k":"p","x":2700,"x2":2720,"l":10800,"h":11200},
{"s":"RDB-Pr-NS","k":"p","x":3030,"x2":3050,"l":10700,"h":13510},
{"s":"RDB-Pr-NS","k":"p","x":3300,"x2":3320,"l":10600,"h":11000},
{"s":"RDB-Pr-NS","k":"p","x":3800,"x2":3820,"l":10500,"h":10900},
{"s":"RDB-Pr-NS","k":"p","x":4300,"x2":4320,"l":10700,"h":11000},
{"s":"RDB-Pr-NS","k":"p","x":4800,"x2":4820,"l":10600,"h":11000},
{"s":"RDB-Pr-NS","k":"p","x":5300,"x2":5320,"l":11100,"h":11400},
{"s":"RDB-Pr-NS","k":"p","x":5700,"x2":5720,"l":10900,"h":11300},
{"s":"RDB-Pr-NS","k":"p","x":5960,"x2":5980,"l":11100,"h":14990},
{"s":"RDB-Pr-NS","k":"p","x":6300,"x2":6320,"l":12400,"h":12700},
{"s":"RDB-Pr-NS","k":"p","x":7000,"x2":7020,"l":12200,"h":12600},
{"s":"RDB-Pr-NS","k":"p","x":7190,"x2":7210,"l":12200,"h":14240},
{"s":"RDB-Pr-NS","k":"p","x":7600,"x2":7620,"l":10700,"h":11000},
{"s":"RDB-Pr-NS","k":"p","x":7750,"x2":7770,"l":10700,"h":13230},
{"s":"RDB-Pr-NS","k":"p","x":8300,"x2":8320,"l":11000,"h":11300},
{"s":"RDB-Pr-NS","k":"p","x":8750,"x2":8770,"l":11000,"h":14240},
{"s":"RDB-Pr-NS","k":"p","x":9200,"x2":9220,"l":10900,"h":11300},
{"s":"RDB-Pr-NS","k":"p","x":9700,"x2":9720,"l":10900,"h":15500},
{"s":"RDB-Pr-NS","k":"p","x":9800,"x2":9820,"l":10700,"h":11100},
{"s":"RDB-Pr-NS","k":"p","x":10400,"x2":10420,"l":10900,"h":11200},
{"s":"RDB-Pr-NS","k":"p","x":10690,"x2":10710,"l":10900,"h":14130},
{"s":"RDB-Pr-NS","k":"p","x":11200,"x2":11220,"l":10800,"h":11100},
{"s":"RDB-Pr-NS","k":"p","x":12000,"x2":12020,"l":12300,"h":12700},
{"s":"RDB-Pr-NS","k":"p","x":12200,"x2":12220,"l":12300,"h":14950},
{"s":"RDB-Pr-NS","k":"p","x":12520,"x2":12540,"l":12300,"h":16760},
{"s":"RDB-Pr-NS","k":"p","x":12900,"x2":12920,"l":12200,"h":12600},
{"s":"RDB-Pr-NS","k":"p","x":13370,"x2":13390,"l":12200,"h":13950},
{"s":"RDB-Pr-NS","k":"p","x":13800,"x2":13820,"l":10900,"h":11200},
{"s":"RDB-Pr-NS","k":"p","x":14280,"x2":14300,"l":10800,"h":12860},
{"s":"RDB-Pr-NS","k":"p","x":14600,"x2":14620,"l":10800,"h":11200},
{"s":"RDB-Pr-NS","k":"p","x":15270,"x2":15290,"l":11000,"h":14060},
{"s":"RDB-Pr-NS","k":"p","x":15500,"x2":15520,"l":11000,"h":11300},
{"s":"RDB-Pr-NS","k":"p","x":16300,"x2":16320,"l":11200,"h":11500},
{"s":"RDB-Pr-NS","k":"p","x":16800,"x2":16820,"l":11200,"h":11600},
{"s":"RDB-Pr-NS","k":"p","x":17150,"x2":17170,"l":11200,"h":15070},
{"s":"RDB-Pr-NS","k":"p","x":17500,"x2":17520,"l":12500,"h":12800},
{"s":"RDB-Pr-NS","k":"p","x":17780,"x2":17800,"l":12500,"h":15500},
{"s":"RDB-Pr-NS","k":"p","x":18300,"x2":18320,"l":12300,"h":12700},
{"s":"RDB-Pr-NS","k":"p","x":19010,"x2":19030,"l":11700,"h":14740},
{"s":"RDB-Pr-NS","k":"p","x":19100,"x2":19120,"l":11700,"h":12100},
{"s":"RDB-Pr-NS","k":"p","x":19600,"x2":19620,"l":11800,"h":12200},
{"s":"RDB-Pr-NS","k":"p","x":19820,"x2":19840,"l":11800,"h":15360},
{"s":"RDB-Pr-NS","k":"q","x":500,"x2":520,"l":10000,"h":10300},
{"s":"RDB-Pr-NS","k":"q","x":2300,"x2":2320,"l":8900,"h":9200},
{"s":"RDB-Pr-NS","k":"q","x":3600,"x2":3620,"l":8900,"h":9200},
{"s":"RDB-Pr-NS","k":"q","x":4200,"x2":4220,"l":8800,"h":9100},
{"s":"RDB-Pr-NS","k":"q","x":7600,"x2":7620,"l":8500,"h":8800},
{"s":"RDB-Pr-NS","k":"q","x":8800,"x2":8820,"l":9100,"h":9400},
{"s":"RDB-Pr-NS","k":"q","x":10500,"x2":10520,"l":8900,"h":9200},
{"s":"RDB-Pr-NS","k":"q","x":11300,"x2":11320,"l":9000,"h":9300},
{"s":"RDB-Pr-NS","k":"q","x":13900,"x2":13920,"l":9200,"h":9500},
{"s":"RDB-Pr-NS","k":"q","x":15300,"x2":15320,"l":9400,"h":9700},
{"s":"RDB-Pr-NS","k":"q","x":16500,"x2":16520,"l":9500,"h":9800},
{"s":"RDB-Pr-NS-Opt","k":"b","x":0,"x2":3800,"l":340,"h":600},
{"s":"RDB-Pr-NS-Opt","k":"b","x":3800,"x2":4000,"l":350,"h":720},
{"s":"RDB-Pr-NS-Opt","k":"b","x":4000,"x2":20000,"l":340,"h":620},
{"s":"RDB-Pr-NS-Opt","k":"b","x":600,"x2":800,"l":400,"h":680},
{"s":"RDB-Pr-NS-Opt","k":"b","x":950,"x2":1150,"l":400,"h":780},
{"s":"RDB-Pr-NS-Opt","k":"p","x":750,"x2":770,"l":600,"h":680},
{"s":"RDB-Pr-NS-Opt","k":"p","x":1010,"x2":1030,"l":600,"h":800},
{"s":"RDB-Pr-NS-Opt","k":"p","x":8710,"x2":8730,"l":600,"h":1050},
{"s":"RDB-Pr-NS-Opt","k":"p","x":9250,"x2":9270,"l":600,"h":1120},
{"s":"RDB-Pr-NS-Opt","k":"p","x":9270,"x2":9290,"l":600,"h":1500},
{"s":"RDB-Pr-NS-Opt","k":"p","x":9280,"x2":9300,"l":600,"h":2020},
{"s":"RDB-Pr-NS-Opt","k":"p","x":9960,"x2":9980,"l":600,"h":1400},
{"s":"RDB-Pr-NS-Opt","k":"p","x":10000,"x2":10020,"l":600,"h":1250},
{"s":"RDB-Pr-NS-Opt","k":"p","x":14550,"x2":14570,"l":600,"h":730},
{"s":"RDB-Pr-NS-Opt","k":"p","x":15070,"x2":15090,"l":600,"h":3280},
{"s":"RDB-Pr-NS-Opt","k":"p","x":15250,"x2":15270,"l":600,"h":970},
{"s":"RDB-Pr-NS-Opt","k":"p","x":15450,"x2":15470,"l":600,"h":860},
{"s":"RDB-Pr-NS-Opt","k":"p","x":15450,"x2":15470,"l":600,"h":720},
{"s":"RDB-Pr-NS-Opt","k":"p","x":16000,"x2":16020,"l":600,"h":650},
{"s":"RDB-Pr-NS-Opt","k":"p","x":16240,"x2":16260,"l":600,"h":880},
{"s":"RDB-Pr-NS-Opt","k":"p","x":16240,"x2":16260,"l":600,"h":1080},
{"s":"RDB-Pr-Fl-Opt","k":"b","x":0,"x2":3750,"l":180,"h":520},
{"s":"RDB-Pr-Fl-Opt","k":"b","x":3750,"x2":3950,"l":180,"h":700},
{"s":"RDB-Pr-Fl-Opt","k":"b","x":3950,"x2":20000,"l":190,"h":530},
{"s":"RDB-Pr-Fl-Opt","k":"p","x":2020,"x2":2040,"l":520,"h":760},
{"s":"RDB-Pr-Fl-Opt","k":"p","x":2160,"x2":2180,"l":520,"h":680},
{"s":"RDB-Pr-Fl-Opt","k":"p","x":4280,"x2":4300,"l":520,"h":600},
{"s":"RDB-Pr-Fl-Opt","k":"p","x":5190,"x2":5210,"l":520,"h":680},
{"s":"RDB-Pr-Fl-Opt","k":"p","x":14770,"x2":14790,"l":520,"h":610},
{"s":"RDB-Pr-Fl-Opt","k":"p","x":14910,"x2":14930,"l":520,"h":720},
{"s":"RDB-Pr-Fl-Opt","k":"p","x":16510,"x2":16530,"l":520,"h":970},
{"s":"RDB-Pr-Fl-Opt","k":"p","x":17250,"x2":17270,"l":520,"h":680},
{"s":"RDB-Pr-Fl-Opt","k":"p","x":19050,"x2":19070,"l":520,"h":720},
{"s":"RDB-Pr-Fl-Opt","k":"p","x":19640,"x2":19660,"l":520,"h":680},
{"s":"RDB-Pr-Fl-Opt","k":"p","x":19950,"x2":19970,"l":520,"h":680}
]},
"data": {"name": "d"},
"layer": [
  {
    "transform": [{"filter": "datum.s==='RDB-Pr'"}],
    "mark": {"type": "rect"},
    "encoding": {
      "x": {"field": "x", "type": "quantitative", "scale": {"domain": [0, 20000], "nice": false, "zero": false},
            "axis": {"values": [0,2000,4000,6000,8000,10000,12000,14000,16000,18000,20000], "format": "d", "grid": true, "tickSize": -6, "labelPadding": 9, "title": "Benchmark loop number", "titlePadding": 8, "labelFlush": false}},
      "x2": {"field": "x2"},
      "y": {"field": "l", "type": "quantitative", "scale": {"domain": [0, 20000], "nice": false, "zero": false},
            "axis": {"values": [0,2000,4000,6000,8000,10000,12000,14000,16000,18000,20000], "format": "d", "grid": true, "tickSize": -6, "labelPadding": 16, "title": "Request Time [microseconds]", "titlePadding": 17}},
      "y2": {"field": "h"},
      "color": {"field": "s", "type": "nominal",
        "scale": {"domain": ["RDB-Pr","RDB-Pr-Opt","RDB-Pr-Pr","RDB-Pr-Pr-Opt","RDB-Pr-Fl","RDB-Pr-NS","RDB-Pr-NS-Opt","RDB-Pr-Fl-Opt"],
                  "range": ["#ff1493","#0000cd","#228b22","#9400d3","#c8c800","#00e8e8","#ffa500","#ff0000"]},
        "legend": {"title": null, "orient": "none", "legendX": 946, "legendY": 11, "symbolSize": 36, "rowPadding": -0.6, "padding": 0,
                   "labelAlign": "right", "labelOffset": -40, "labelFontSize": 14, "labelFont": "Liberation Sans", "labelColor": "black", "labelLimit": 300,
                   "encode": {"symbols": {"update": {
                     "shape": {"signal": "datum.value==='RDB-Pr'?'M-6.7,0H6.7M0,-1.4V1.4':datum.value==='RDB-Pr-Opt'?'M-6.7,0H6.7M-1.1,-1.1L1.1,1.1M-1.1,1.1L1.1,-1.1':datum.value==='RDB-Pr-Pr'?'M-6.7,0H6.7M0,-1.4V1.4M-1,-1L1,1M-1,1L1,-1':(datum.value==='RDB-Pr-Pr-Opt'||datum.value==='RDB-Pr-Fl')?'M-6.7,0H6.7M-1.3,-1.3H1.3V1.3H-1.3Z':(datum.value==='RDB-Pr-NS'||datum.value==='RDB-Pr-NS-Opt')?'M-6.7,0H6.7M1.2,0A1.2,1.2,0,1,1,-1.2,0A1.2,1.2,0,1,1,1.2,0':'M-6.7,0H6.7M0,-1.4L1.3,1H-1.3Z'"},
                     "fill": {"scale": "color", "field": "value"},
                     "fillOpacity": {"signal": "(datum.value==='RDB-Pr-Fl'||datum.value==='RDB-Pr-NS-Opt')?1:0"},
                     "stroke": {"scale": "color", "field": "value"},
                     "strokeWidth": {"value": 1},
                     "opacity": {"value": 1}
                   }}}}
      }
    }
  },
  {"transform": [{"filter": "datum.s==='RDB-Pr'"}], "mark": {"type": "point", "shape": "M-1,0H1M0,-1V1", "color": "#ff1493", "filled": false, "size": 60, "opacity": 1, "strokeWidth": 1},
   "encoding": {"x": {"field": "x", "type": "quantitative", "axis": null}, "y": {"field": "h", "type": "quantitative", "axis": null}}},
  {"transform": [{"filter": "datum.s==='RDB-Pr' && datum.k!=='p'"}], "mark": {"type": "point", "shape": "M-1,0H1M0,-1V1", "color": "#ff1493", "filled": false, "size": 60, "opacity": 1, "strokeWidth": 1},
   "encoding": {"x": {"field": "x", "type": "quantitative", "axis": null}, "y": {"field": "l", "type": "quantitative", "axis": null}}},

  {"transform": [{"filter": "datum.s==='RDB-Pr-Opt'"}], "mark": {"type": "rect"},
   "encoding": {"x": {"field": "x", "type": "quantitative", "axis": null}, "x2": {"field": "x2"}, "y": {"field": "l", "type": "quantitative", "axis": null}, "y2": {"field": "h"}, "color": {"field": "s", "type": "nominal"}}},
  {"transform": [{"filter": "datum.s==='RDB-Pr-Opt'"}], "mark": {"type": "point", "shape": "M-0.8,-0.8L0.8,0.8M-0.8,0.8L0.8,-0.8", "color": "#0000cd", "filled": false, "size": 60, "opacity": 1, "strokeWidth": 1},
   "encoding": {"x": {"field": "x", "type": "quantitative", "axis": null}, "y": {"field": "h", "type": "quantitative", "axis": null}}},
  {"transform": [{"filter": "datum.s==='RDB-Pr-Opt' && datum.k!=='p'"}], "mark": {"type": "point", "shape": "M-0.8,-0.8L0.8,0.8M-0.8,0.8L0.8,-0.8", "color": "#0000cd", "filled": false, "size": 60, "opacity": 1, "strokeWidth": 1},
   "encoding": {"x": {"field": "x", "type": "quantitative", "axis": null}, "y": {"field": "l", "type": "quantitative", "axis": null}}},

  {"transform": [{"filter": "datum.s==='RDB-Pr-Pr'"}], "mark": {"type": "rect"},
   "encoding": {"x": {"field": "x", "type": "quantitative", "axis": null}, "x2": {"field": "x2"}, "y": {"field": "l", "type": "quantitative", "axis": null}, "y2": {"field": "h"}, "color": {"field": "s", "type": "nominal"}}},
  {"transform": [{"filter": "datum.s==='RDB-Pr-Pr'"}], "mark": {"type": "point", "shape": "M-1,0H1M0,-1V1M-0.7,-0.7L0.7,0.7M-0.7,0.7L0.7,-0.7", "color": "#228b22", "filled": false, "size": 60, "opacity": 1, "strokeWidth": 1},
   "encoding": {"x": {"field": "x", "type": "quantitative", "axis": null}, "y": {"field": "h", "type": "quantitative", "axis": null}}},
  {"transform": [{"filter": "datum.s==='RDB-Pr-Pr' && datum.k!=='p'"}], "mark": {"type": "point", "shape": "M-1,0H1M0,-1V1M-0.7,-0.7L0.7,0.7M-0.7,0.7L0.7,-0.7", "color": "#228b22", "filled": false, "size": 60, "opacity": 1, "strokeWidth": 1},
   "encoding": {"x": {"field": "x", "type": "quantitative", "axis": null}, "y": {"field": "l", "type": "quantitative", "axis": null}}},

  {"transform": [{"filter": "datum.s==='RDB-Pr-Pr-Opt'"}], "mark": {"type": "rect"},
   "encoding": {"x": {"field": "x", "type": "quantitative", "axis": null}, "x2": {"field": "x2"}, "y": {"field": "l", "type": "quantitative", "axis": null}, "y2": {"field": "h"}, "color": {"field": "s", "type": "nominal"}}},
  {"transform": [{"filter": "datum.s==='RDB-Pr-Pr-Opt'"}], "mark": {"type": "point", "shape": "square", "color": "#9400d3", "filled": false, "size": 55, "opacity": 1, "strokeWidth": 1},
   "encoding": {"x": {"field": "x", "type": "quantitative", "axis": null}, "y": {"field": "h", "type": "quantitative", "axis": null}}},
  {"transform": [{"filter": "datum.s==='RDB-Pr-Pr-Opt' && datum.k!=='p'"}], "mark": {"type": "point", "shape": "square", "color": "#9400d3", "filled": false, "size": 55, "opacity": 1, "strokeWidth": 1},
   "encoding": {"x": {"field": "x", "type": "quantitative", "axis": null}, "y": {"field": "l", "type": "quantitative", "axis": null}}},

  {"transform": [{"filter": "datum.s==='RDB-Pr-Fl'"}], "mark": {"type": "rect"},
   "encoding": {"x": {"field": "x", "type": "quantitative", "axis": null}, "x2": {"field": "x2"}, "y": {"field": "l", "type": "quantitative", "axis": null}, "y2": {"field": "h"}, "color": {"field": "s", "type": "nominal"}}},
  {"transform": [{"filter": "datum.s==='RDB-Pr-Fl'"}], "mark": {"type": "point", "shape": "square", "color": "#c8c800", "filled": true, "size": 50, "opacity": 1},
   "encoding": {"x": {"field": "x", "type": "quantitative", "axis": null}, "y": {"field": "h", "type": "quantitative", "axis": null}}},
  {"transform": [{"filter": "datum.s==='RDB-Pr-Fl' && datum.k!=='p'"}], "mark": {"type": "point", "shape": "square", "color": "#c8c800", "filled": true, "size": 50, "opacity": 1},
   "encoding": {"x": {"field": "x", "type": "quantitative", "axis": null}, "y": {"field": "l", "type": "quantitative", "axis": null}}},

  {"transform": [{"filter": "datum.s==='RDB-Pr-NS'"}], "mark": {"type": "rect"},
   "encoding": {"x": {"field": "x", "type": "quantitative", "axis": null}, "x2": {"field": "x2"}, "y": {"field": "l", "type": "quantitative", "axis": null}, "y2": {"field": "h"}, "color": {"field": "s", "type": "nominal"}}},
  {"transform": [{"filter": "datum.s==='RDB-Pr-NS'"}], "mark": {"type": "point", "shape": "circle", "color": "#00e8e8", "filled": false, "size": 45, "opacity": 1, "strokeWidth": 1},
   "encoding": {"x": {"field": "x", "type": "quantitative", "axis": null}, "y": {"field": "h", "type": "quantitative", "axis": null}}},
  {"transform": [{"filter": "datum.s==='RDB-Pr-NS' && datum.k!=='p'"}], "mark": {"type": "point", "shape": "circle", "color": "#00e8e8", "filled": false, "size": 45, "opacity": 1, "strokeWidth": 1},
   "encoding": {"x": {"field": "x", "type": "quantitative", "axis": null}, "y": {"field": "l", "type": "quantitative", "axis": null}}},

  {"transform": [{"filter": "datum.s==='RDB-Pr-NS-Opt'"}], "mark": {"type": "rect"},
   "encoding": {"x": {"field": "x", "type": "quantitative", "axis": null}, "x2": {"field": "x2"}, "y": {"field": "l", "type": "quantitative", "axis": null}, "y2": {"field": "h"}, "color": {"field": "s", "type": "nominal"}}},
  {"transform": [{"filter": "datum.s==='RDB-Pr-NS-Opt' && datum.k==='p'"}], "mark": {"type": "point", "shape": "circle", "color": "#ffa500", "filled": true, "size": 45, "opacity": 1},
   "encoding": {"x": {"field": "x", "type": "quantitative", "axis": null}, "y": {"field": "h", "type": "quantitative", "axis": null}}},

  {"transform": [{"filter": "datum.s==='RDB-Pr-Fl-Opt'"}], "mark": {"type": "rect"},
   "encoding": {"x": {"field": "x", "type": "quantitative", "axis": null}, "x2": {"field": "x2"}, "y": {"field": "l", "type": "quantitative", "axis": null}, "y2": {"field": "h"}, "color": {"field": "s", "type": "nominal"}}},
  {"transform": [{"filter": "datum.s==='RDB-Pr-Fl-Opt' && datum.k==='p'"}], "mark": {"type": "point", "shape": "triangle-up", "color": "#ff0000", "filled": false, "size": 55, "opacity": 1, "strokeWidth": 1},
   "encoding": {"x": {"field": "x", "type": "quantitative", "axis": null}, "y": {"field": "h", "type": "quantitative", "axis": null}}},

  {
    "data": {"values": [{"x": 0, "h": 0}]},
    "mark": {"type": "point", "opacity": 0},
    "encoding": {
      "x": {"field": "x", "type": "quantitative", "axis": {"orient": "top", "labels": false, "grid": false, "title": null, "tickSize": -6, "values": [0,2000,4000,6000,8000,10000,12000,14000,16000,18000,20000]}},
      "y": {"field": "h", "type": "quantitative", "axis": {"orient": "right", "labels": false, "grid": false, "title": null, "tickSize": -6, "values": [0,2000,4000,6000,8000,10000,12000,14000,16000,18000,20000]}}
    }
  }
],
"resolve": {"axis": {"x": "independent", "y": "independent"}}
}
